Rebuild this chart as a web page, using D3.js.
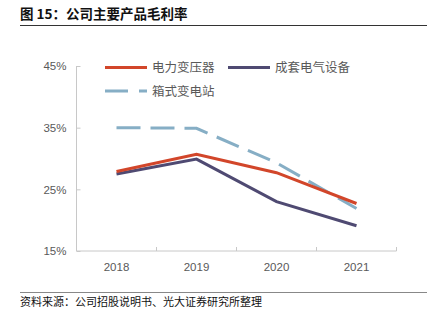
<!DOCTYPE html>
<html>
<head>
<meta charset="utf-8">
<script src="https://cdn.jsdelivr.net/npm/d3@7"></script>
<style>
  html, body { margin: 0; padding: 0; background: #fff; }
  svg { display: block; font-family: "Noto Sans CJK SC", "Liberation Sans", sans-serif; }
</style>
</head>
<body>
<svg id="chart" width="437" height="322"></svg>
<script>
// Years on the x axis
const years = ["2018", "2019", "2020", "2021"];
// Gross margin (%) per product line
const transformer = [27.9, 30.7, 27.7, 22.7];   // 电力变压器
const switchgear  = [27.5, 29.9, 23.0, 19.1];   // 成套电气设备
const substation  = [35.0, 34.9, 29.3, 21.9];   // 箱式变电站
const yTicks = [15, 25, 35, 45];

const series = [
  { name: "电力变压器", values: transformer, color: "#d2462a", dash: null },
  { name: "成套电气设备", values: switchgear, color: "#4f4a72", dash: null },
  { name: "箱式变电站", values: substation, color: "#86aec5", dash: "24,10" }
];

const svg = d3.select("#chart");

// Title and rule
svg.append("text")
  .attr("x", 20).attr("y", 18.5)
  .attr("font-size", 13.5).attr("font-weight", "bold").attr("fill", "#111")
  .text("图 15：公司主要产品毛利率");
svg.append("line")
  .attr("x1", 20).attr("x2", 427).attr("y1", 25.5).attr("y2", 25.5)
  .attr("stroke", "#333").attr("stroke-width", 1);

// Plot area
const plotL = 76.5, plotR = 396.5, plotT = 66, plotB = 251;
const x = d3.scaleBand().domain(years).range([plotL, plotR]);
const y = d3.scaleLinear().domain([15, 45]).range([plotB, plotT]);

const axisColor = "#c8c8c8";
const labelColor = "#595959";

// Y axis, ticks pointing inward
const yAxis = svg.append("g")
  .attr("transform", `translate(${plotL},0)`)
  .call(d3.axisLeft(y).tickValues(yTicks).tickSize(-4).tickPadding(10).tickFormat(d => d + "%"));
yAxis.select(".domain").attr("stroke", axisColor).attr("d", `M0,${plotT}V${plotB}`);
yAxis.selectAll(".tick line").attr("stroke", axisColor);
yAxis.selectAll(".tick text").attr("fill", labelColor).attr("font-size", 11.5)
  .attr("font-family", "Liberation Sans, Arial, sans-serif");

// X axis, tick marks at band boundaries pointing upward
const xAxis = svg.append("g")
  .attr("transform", `translate(0,${plotB})`)
  .call(d3.axisBottom(x).tickSize(0).tickPadding(12));
xAxis.select(".domain").attr("stroke", axisColor).attr("d", `M${plotL},0H${plotR}V-4`);
xAxis.selectAll(".tick text").attr("fill", labelColor).attr("font-size", 11.5)
  .attr("font-family", "Liberation Sans, Arial, sans-serif");
xAxis.selectAll(".bound").data(years.slice(1)).enter().append("line")
  .attr("class", "bound")
  .attr("x1", d => x(d)).attr("x2", d => x(d))
  .attr("y1", 0).attr("y2", -4)
  .attr("stroke", axisColor);

// Lines
const line = d3.line()
  .x((d, i) => x(years[i]) + x.bandwidth() / 2)
  .y(d => y(d));

series.slice().reverse().forEach(s => {
  svg.append("path")
    .datum(s.values)
    .attr("d", line)
    .attr("fill", "none")
    .attr("stroke", s.color)
    .attr("stroke-width", 3)
    .attr("stroke-dasharray", s.dash);
});

// Legend
const legendItems = [
  { s: series[0], x: 105, y: 67.5 },
  { s: series[1], x: 228, y: 67.5 },
  { s: series[2], x: 105, y: 91 }
];
legendItems.forEach(it => {
  svg.append("line")
    .attr("x1", it.x).attr("x2", it.x + 42)
    .attr("y1", it.y).attr("y2", it.y)
    .attr("stroke", it.s.color).attr("stroke-width", 3)
    .attr("stroke-dasharray", it.s.dash ? "23,11" : null);
  svg.append("text")
    .attr("x", it.x + 47).attr("y", it.y + 4.5)
    .attr("font-size", 12.5).attr("fill", labelColor)
    .text(it.s.name);
});

// Source note
svg.append("line")
  .attr("x1", 20).attr("x2", 427).attr("y1", 292.5).attr("y2", 292.5)
  .attr("stroke", "#888").attr("stroke-width", 1);
svg.append("text")
  .attr("x", 20).attr("y", 305.5)
  .attr("font-size", 11).attr("fill", "#111")
  .text("资料来源：公司招股说明书、光大证券研究所整理");
</script>
</body>
</html>
